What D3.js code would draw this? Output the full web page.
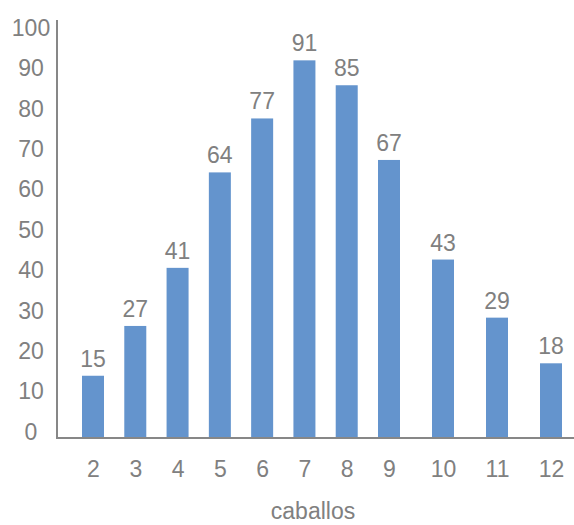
<!DOCTYPE html>
<html>
<head>
<meta charset="utf-8">
<script src="https://cdn.jsdelivr.net/npm/d3@7"></script>
<style>
  html, body { margin: 0; padding: 0; background: #fff; }
  svg { display: block; }
  text { font-family: "Liberation Sans", Arial, sans-serif; fill: #808080; }
</style>
</head>
<body>
<script>
// Number of horses per class
const categories = ["2", "3", "4", "5", "6", "7", "8", "9", "10", "11", "12"];
const values = [15, 27, 41, 64, 77, 91, 85, 67, 43, 29, 18];
const yTicks = [0, 10, 20, 30, 40, 50, 60, 70, 80, 90, 100];
const xTitle = "caballos";

const W = 574, H = 525;
const baseY = 438, topY = 20, axisX = 57;
const barW = 22;
const fs = 23;

const svg = d3.select("body").append("svg").attr("width", W).attr("height", H);

// Category centres: evenly stepped up to 9, wider spacing for 10–12
const x = d3.scaleLinear().domain([2, 9, 12]).range([93, 389, 551]);
const y = d3.scaleLinear().domain([0, 100]).range([baseY, 23]);
// Tick labels sit slightly inside the plot's vertical extent
const yLab = d3.scaleLinear().domain([0, 100]).range([432, 28]);

// Bars
svg.append("g").selectAll("rect")
  .data(values)
  .join("rect")
  .attr("x", (d, i) => x(+categories[i]) - barW / 2)
  .attr("y", d => y(d))
  .attr("width", barW)
  .attr("height", d => y(0) - y(d))
  .attr("fill", "#6494cd");

// Value labels
svg.append("g").selectAll("text")
  .data(values)
  .join("text")
  .attr("x", (d, i) => x(+categories[i]))
  .attr("y", d => y(d) - 9)
  .attr("text-anchor", "middle")
  .attr("font-size", fs)
  .text(d => d);

// Y axis
const yAxis = d3.axisLeft(yLab).tickValues(yTicks).tickSize(0).tickPadding(0);
const gy = svg.append("g").attr("transform", "translate(31,0)").call(yAxis);
gy.select(".domain").remove();
gy.selectAll("text")
  .attr("x", 0)
  .attr("text-anchor", "middle")
  .attr("font-size", fs)
  .attr("font-family", "Liberation Sans, Arial, sans-serif")
  .attr("fill", "#808080");

svg.append("line")
  .attr("x1", axisX).attr("x2", axisX)
  .attr("y1", topY).attr("y2", baseY)
  .attr("stroke", "#878787").attr("stroke-width", 2);

// X axis
const xAxis = d3.axisBottom(x).tickValues(categories.map(Number)).tickSize(0).tickPadding(0)
  .tickFormat((d, i) => categories[i]);
const gx = svg.append("g").attr("transform", `translate(0,${baseY})`).call(xAxis);
gx.select(".domain").remove();
gx.selectAll("text")
  .attr("y", 39)
  .attr("dy", 0)
  .attr("font-size", fs)
  .attr("font-family", "Liberation Sans, Arial, sans-serif")
  .attr("fill", "#808080");

svg.append("line")
  .attr("x1", axisX - 1).attr("x2", W)
  .attr("y1", baseY).attr("y2", baseY)
  .attr("stroke", "#878787").attr("stroke-width", 2);

// Axis title
svg.append("text")
  .attr("x", 313)
  .attr("y", 519)
  .attr("text-anchor", "middle")
  .attr("font-size", fs)
  .text(xTitle);
</script>
</body>
</html>
